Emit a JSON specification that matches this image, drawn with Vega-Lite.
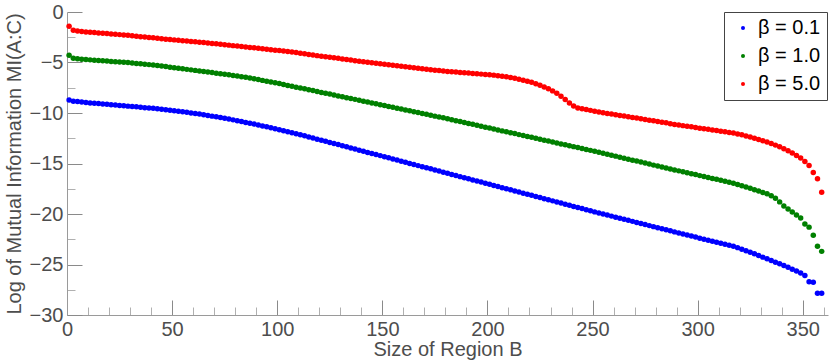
{
  "$schema": "https://vega.github.io/schema/vega-lite/v6.json",
  "width": 761,
  "height": 303,
  "autosize": {"type": "none"},
  "padding": {"left": 67, "top": 12, "right": 2, "bottom": 46},
  "background": "white",
  "data": {"values": [
    {"x":1,"a":-8.72,"b":-4.28,"c":-1.41},
    {"x":3,"a":-8.83,"b":-4.57,"c":-1.80},
    {"x":5,"a":-8.87,"b":-4.63,"c":-1.88},
    {"x":7,"a":-8.90,"b":-4.67,"c":-1.93},
    {"x":9,"a":-8.95,"b":-4.70,"c":-1.97},
    {"x":11,"a":-9.00,"b":-4.74,"c":-2.01},
    {"x":13,"a":-9.04,"b":-4.77,"c":-2.04},
    {"x":15,"a":-9.07,"b":-4.80,"c":-2.07},
    {"x":17,"a":-9.11,"b":-4.83,"c":-2.11},
    {"x":19,"a":-9.14,"b":-4.86,"c":-2.14},
    {"x":21,"a":-9.18,"b":-4.89,"c":-2.18},
    {"x":23,"a":-9.21,"b":-4.92,"c":-2.21},
    {"x":25,"a":-9.25,"b":-4.95,"c":-2.24},
    {"x":27,"a":-9.28,"b":-4.98,"c":-2.28},
    {"x":29,"a":-9.32,"b":-5.01,"c":-2.31},
    {"x":31,"a":-9.35,"b":-5.05,"c":-2.36},
    {"x":33,"a":-9.39,"b":-5.09,"c":-2.40},
    {"x":35,"a":-9.43,"b":-5.13,"c":-2.44},
    {"x":37,"a":-9.47,"b":-5.17,"c":-2.48},
    {"x":39,"a":-9.50,"b":-5.21,"c":-2.52},
    {"x":41,"a":-9.54,"b":-5.25,"c":-2.56},
    {"x":43,"a":-9.58,"b":-5.30,"c":-2.60},
    {"x":45,"a":-9.62,"b":-5.35,"c":-2.64},
    {"x":47,"a":-9.67,"b":-5.40,"c":-2.69},
    {"x":49,"a":-9.72,"b":-5.46,"c":-2.72},
    {"x":51,"a":-9.77,"b":-5.51,"c":-2.76},
    {"x":53,"a":-9.82,"b":-5.57,"c":-2.80},
    {"x":55,"a":-9.87,"b":-5.62,"c":-2.84},
    {"x":57,"a":-9.93,"b":-5.68,"c":-2.88},
    {"x":59,"a":-9.99,"b":-5.73,"c":-2.92},
    {"x":61,"a":-10.05,"b":-5.78,"c":-2.95},
    {"x":63,"a":-10.11,"b":-5.84,"c":-2.99},
    {"x":65,"a":-10.17,"b":-5.89,"c":-3.03},
    {"x":67,"a":-10.24,"b":-5.95,"c":-3.07},
    {"x":69,"a":-10.31,"b":-6.00,"c":-3.11},
    {"x":71,"a":-10.38,"b":-6.06,"c":-3.15},
    {"x":73,"a":-10.45,"b":-6.11,"c":-3.20},
    {"x":75,"a":-10.53,"b":-6.17,"c":-3.24},
    {"x":77,"a":-10.60,"b":-6.22,"c":-3.28},
    {"x":79,"a":-10.68,"b":-6.28,"c":-3.33},
    {"x":81,"a":-10.76,"b":-6.33,"c":-3.37},
    {"x":83,"a":-10.85,"b":-6.40,"c":-3.42},
    {"x":85,"a":-10.93,"b":-6.47,"c":-3.46},
    {"x":87,"a":-11.01,"b":-6.54,"c":-3.51},
    {"x":89,"a":-11.10,"b":-6.61,"c":-3.55},
    {"x":91,"a":-11.19,"b":-6.69,"c":-3.60},
    {"x":93,"a":-11.28,"b":-6.77,"c":-3.64},
    {"x":95,"a":-11.37,"b":-6.85,"c":-3.69},
    {"x":97,"a":-11.46,"b":-6.93,"c":-3.73},
    {"x":99,"a":-11.55,"b":-7.01,"c":-3.78},
    {"x":101,"a":-11.65,"b":-7.09,"c":-3.82},
    {"x":103,"a":-11.75,"b":-7.18,"c":-3.87},
    {"x":105,"a":-11.85,"b":-7.27,"c":-3.92},
    {"x":107,"a":-11.95,"b":-7.35,"c":-3.97},
    {"x":109,"a":-12.05,"b":-7.44,"c":-4.02},
    {"x":111,"a":-12.15,"b":-7.52,"c":-4.08},
    {"x":113,"a":-12.26,"b":-7.61,"c":-4.14},
    {"x":115,"a":-12.37,"b":-7.70,"c":-4.20},
    {"x":117,"a":-12.48,"b":-7.78,"c":-4.26},
    {"x":119,"a":-12.59,"b":-7.87,"c":-4.32},
    {"x":121,"a":-12.70,"b":-7.96,"c":-4.38},
    {"x":123,"a":-12.80,"b":-8.04,"c":-4.43},
    {"x":125,"a":-12.91,"b":-8.13,"c":-4.49},
    {"x":127,"a":-13.02,"b":-8.22,"c":-4.54},
    {"x":129,"a":-13.13,"b":-8.31,"c":-4.59},
    {"x":131,"a":-13.24,"b":-8.39,"c":-4.65},
    {"x":133,"a":-13.35,"b":-8.48,"c":-4.71},
    {"x":135,"a":-13.46,"b":-8.57,"c":-4.76},
    {"x":137,"a":-13.57,"b":-8.65,"c":-4.82},
    {"x":139,"a":-13.68,"b":-8.74,"c":-4.87},
    {"x":141,"a":-13.79,"b":-8.83,"c":-4.92},
    {"x":143,"a":-13.90,"b":-8.91,"c":-4.97},
    {"x":145,"a":-14.01,"b":-9.00,"c":-5.02},
    {"x":147,"a":-14.11,"b":-9.09,"c":-5.07},
    {"x":149,"a":-14.22,"b":-9.18,"c":-5.12},
    {"x":151,"a":-14.33,"b":-9.26,"c":-5.17},
    {"x":153,"a":-14.44,"b":-9.35,"c":-5.22},
    {"x":155,"a":-14.55,"b":-9.44,"c":-5.27},
    {"x":157,"a":-14.66,"b":-9.52,"c":-5.32},
    {"x":159,"a":-14.77,"b":-9.61,"c":-5.37},
    {"x":161,"a":-14.88,"b":-9.70,"c":-5.42},
    {"x":163,"a":-14.99,"b":-9.78,"c":-5.47},
    {"x":165,"a":-15.10,"b":-9.87,"c":-5.52},
    {"x":167,"a":-15.21,"b":-9.96,"c":-5.57},
    {"x":169,"a":-15.32,"b":-10.05,"c":-5.62},
    {"x":171,"a":-15.42,"b":-10.13,"c":-5.67},
    {"x":173,"a":-15.53,"b":-10.22,"c":-5.71},
    {"x":175,"a":-15.64,"b":-10.31,"c":-5.76},
    {"x":177,"a":-15.75,"b":-10.39,"c":-5.80},
    {"x":179,"a":-15.86,"b":-10.48,"c":-5.85},
    {"x":181,"a":-15.97,"b":-10.57,"c":-5.88},
    {"x":183,"a":-16.08,"b":-10.66,"c":-5.92},
    {"x":185,"a":-16.19,"b":-10.76,"c":-5.95},
    {"x":187,"a":-16.30,"b":-10.85,"c":-5.98},
    {"x":189,"a":-16.41,"b":-10.94,"c":-6.01},
    {"x":191,"a":-16.52,"b":-11.03,"c":-6.05},
    {"x":193,"a":-16.63,"b":-11.12,"c":-6.08},
    {"x":195,"a":-16.73,"b":-11.22,"c":-6.11},
    {"x":197,"a":-16.84,"b":-11.31,"c":-6.15},
    {"x":199,"a":-16.95,"b":-11.40,"c":-6.18},
    {"x":201,"a":-17.06,"b":-11.49,"c":-6.22},
    {"x":203,"a":-17.17,"b":-11.58,"c":-6.25},
    {"x":205,"a":-17.28,"b":-11.68,"c":-6.31},
    {"x":207,"a":-17.39,"b":-11.77,"c":-6.36},
    {"x":209,"a":-17.50,"b":-11.86,"c":-6.42},
    {"x":211,"a":-17.61,"b":-11.95,"c":-6.49},
    {"x":213,"a":-17.72,"b":-12.04,"c":-6.57},
    {"x":215,"a":-17.83,"b":-12.14,"c":-6.65},
    {"x":217,"a":-17.94,"b":-12.23,"c":-6.75},
    {"x":219,"a":-18.04,"b":-12.32,"c":-6.85},
    {"x":221,"a":-18.15,"b":-12.41,"c":-6.96},
    {"x":223,"a":-18.26,"b":-12.50,"c":-7.10},
    {"x":225,"a":-18.37,"b":-12.60,"c":-7.25},
    {"x":227,"a":-18.48,"b":-12.69,"c":-7.42},
    {"x":229,"a":-18.59,"b":-12.78,"c":-7.60},
    {"x":231,"a":-18.70,"b":-12.87,"c":-7.81},
    {"x":233,"a":-18.81,"b":-12.96,"c":-8.05},
    {"x":235,"a":-18.92,"b":-13.06,"c":-8.34},
    {"x":237,"a":-19.03,"b":-13.15,"c":-8.66},
    {"x":239,"a":-19.14,"b":-13.24,"c":-9.00},
    {"x":241,"a":-19.25,"b":-13.33,"c":-9.30},
    {"x":243,"a":-19.35,"b":-13.42,"c":-9.50},
    {"x":245,"a":-19.46,"b":-13.52,"c":-9.59},
    {"x":247,"a":-19.57,"b":-13.61,"c":-9.66},
    {"x":249,"a":-19.68,"b":-13.70,"c":-9.74},
    {"x":251,"a":-19.79,"b":-13.79,"c":-9.82},
    {"x":253,"a":-19.90,"b":-13.88,"c":-9.90},
    {"x":255,"a":-20.00,"b":-13.98,"c":-9.97},
    {"x":257,"a":-20.11,"b":-14.08,"c":-10.04},
    {"x":259,"a":-20.21,"b":-14.18,"c":-10.10},
    {"x":261,"a":-20.32,"b":-14.27,"c":-10.17},
    {"x":263,"a":-20.42,"b":-14.37,"c":-10.24},
    {"x":265,"a":-20.52,"b":-14.47,"c":-10.30},
    {"x":267,"a":-20.63,"b":-14.57,"c":-10.37},
    {"x":269,"a":-20.73,"b":-14.67,"c":-10.44},
    {"x":271,"a":-20.84,"b":-14.76,"c":-10.50},
    {"x":273,"a":-20.94,"b":-14.86,"c":-10.57},
    {"x":275,"a":-21.04,"b":-14.96,"c":-10.64},
    {"x":277,"a":-21.15,"b":-15.06,"c":-10.71},
    {"x":279,"a":-21.25,"b":-15.16,"c":-10.77},
    {"x":281,"a":-21.36,"b":-15.25,"c":-10.84},
    {"x":283,"a":-21.46,"b":-15.35,"c":-10.91},
    {"x":285,"a":-21.56,"b":-15.45,"c":-10.97},
    {"x":287,"a":-21.66,"b":-15.54,"c":-11.07},
    {"x":289,"a":-21.77,"b":-15.64,"c":-11.13},
    {"x":291,"a":-21.87,"b":-15.73,"c":-11.19},
    {"x":293,"a":-21.97,"b":-15.82,"c":-11.25},
    {"x":295,"a":-22.08,"b":-15.92,"c":-11.31},
    {"x":297,"a":-22.18,"b":-16.01,"c":-11.37},
    {"x":299,"a":-22.28,"b":-16.10,"c":-11.43},
    {"x":301,"a":-22.39,"b":-16.20,"c":-11.50},
    {"x":303,"a":-22.49,"b":-16.29,"c":-11.56},
    {"x":305,"a":-22.59,"b":-16.38,"c":-11.62},
    {"x":307,"a":-22.69,"b":-16.48,"c":-11.68},
    {"x":309,"a":-22.80,"b":-16.57,"c":-11.74},
    {"x":311,"a":-22.90,"b":-16.66,"c":-11.80},
    {"x":313,"a":-23.00,"b":-16.76,"c":-11.86},
    {"x":315,"a":-23.10,"b":-16.85,"c":-11.92},
    {"x":317,"a":-23.20,"b":-16.95,"c":-11.99},
    {"x":319,"a":-23.33,"b":-17.07,"c":-12.07},
    {"x":321,"a":-23.48,"b":-17.20,"c":-12.16},
    {"x":323,"a":-23.63,"b":-17.33,"c":-12.27},
    {"x":325,"a":-23.78,"b":-17.46,"c":-12.38},
    {"x":327,"a":-23.94,"b":-17.60,"c":-12.50},
    {"x":329,"a":-24.10,"b":-17.73,"c":-12.62},
    {"x":331,"a":-24.27,"b":-17.87,"c":-12.75},
    {"x":333,"a":-24.43,"b":-18.00,"c":-12.88},
    {"x":335,"a":-24.60,"b":-18.20,"c":-13.02},
    {"x":337,"a":-24.77,"b":-18.45,"c":-13.18},
    {"x":339,"a":-24.93,"b":-18.80,"c":-13.35},
    {"x":341,"a":-25.10,"b":-19.20,"c":-13.53},
    {"x":343,"a":-25.28,"b":-19.50,"c":-13.74},
    {"x":345,"a":-25.46,"b":-19.80,"c":-13.97},
    {"x":347,"a":-25.65,"b":-20.10,"c":-14.20},
    {"x":349,"a":-25.85,"b":-20.40,"c":-14.45},
    {"x":351,"a":-26.10,"b":-21.00,"c":-14.80},
    {"x":353,"a":-26.70,"b":-21.30,"c":-15.20},
    {"x":355,"a":-26.75,"b":-22.10,"c":-15.90},
    {"x":357,"a":-27.85,"b":-23.20,"c":-16.50},
    {"x":359,"a":-27.85,"b":-23.70,"c":-17.85}
  ]},
  "transform": [{"fold": ["a", "b", "c"], "as": ["series", "y"]}],
  "layer": [
    {
      "mark": {"type": "circle", "opacity": 0},
      "encoding": {
        "x": {"field": "x", "type": "quantitative",
          "scale": {"domain": [0, 362], "nice": false, "zero": false},
          "axis": {"orient": "bottom", "values": [10,20,30,40,60,70,80,90,110,120,130,140,160,170,180,190,210,220,230,240,260,270,280,290,310,320,330,340,360],
            "labels": false, "domain": false, "tickSize": -8, "tickColor": "#b0b0b0", "title": null, "grid": false}},
        "y": {"field": "y", "type": "quantitative",
          "scale": {"domain": [-30, 0], "nice": false, "zero": false},
          "axis": {"orient": "left", "values": [-2.5,-7.5,-12.5,-17.5,-22.5,-27.5],
            "labels": false, "domain": false, "tickSize": -8, "tickColor": "#b0b0b0", "title": null, "grid": false}}
      }
    },
    {
      "mark": {"type": "circle", "size": 30, "opacity": 1},
      "encoding": {
        "x": {"field": "x", "type": "quantitative",
          "scale": {"domain": [0, 362], "nice": false, "zero": false},
          "axis": {"orient": "bottom", "values": [0,50,100,150,200,250,300,350],
            "tickSize": -15, "labelPadding": 19, "tickColor": "#8a8a8a", "domainColor": "#9a9a9a",
            "title": "Size of Region B", "titleX": 380.5, "titleY": 40, "titleBaseline": "alphabetic", "titleAlign": "center"}},
        "y": {"field": "y", "type": "quantitative",
          "scale": {"domain": [-30, 0], "nice": false, "zero": false},
          "axis": {"orient": "left", "values": [0,-5,-10,-15,-20,-25,-30],
            "tickSize": -15, "labelPadding": 19, "tickColor": "#8a8a8a", "domainColor": "#9a9a9a",
            "title": "Log of Mutual Information MI(A:C)", "titleX": -47, "titleY": 151.5, "titleAngle": -90, "titleBaseline": "alphabetic", "titleAlign": "center"}},
        "color": {"field": "series", "type": "nominal",
          "scale": {"domain": ["a", "b", "c"], "range": ["#0000ff", "#008000", "#ff0000"]},
          "legend": {"title": null, "orient": "none", "legendX": 657, "legendY": 0,
            "labelExpr": "datum.label == 'a' ? 'β = 0.1' : datum.label == 'b' ? 'β = 1.0' : 'β = 5.0'",
            "symbolType": "circle", "symbolSize": 16, "symbolStrokeWidth": 0,
            "labelFontSize": 20, "labelColor": "#000000", "labelFont": "Liberation Sans",
            "padding": 6, "symbolOffset": 3, "labelOffset": 5, "rowPadding": 8,
            "strokeColor": "#444444", "fillColor": "white", "cornerRadius": 0}}
      }
    }
  ],
  "resolve": {"axis": {"x": "independent", "y": "independent"}},
  "config": {
    "view": {"stroke": null},
    "font": "Liberation Sans",
    "axis": {"labelFont": "Liberation Sans", "labelFontSize": 20, "labelColor": "#4d4d4d",
      "titleFont": "Liberation Sans", "titleFontSize": 20, "titleColor": "#4d4d4d", "titleFontWeight": "normal",
      "grid": false, "labelFlush": false, "labelOverlap": false, "tickWidth": 1, "domainWidth": 1}
  }
}
